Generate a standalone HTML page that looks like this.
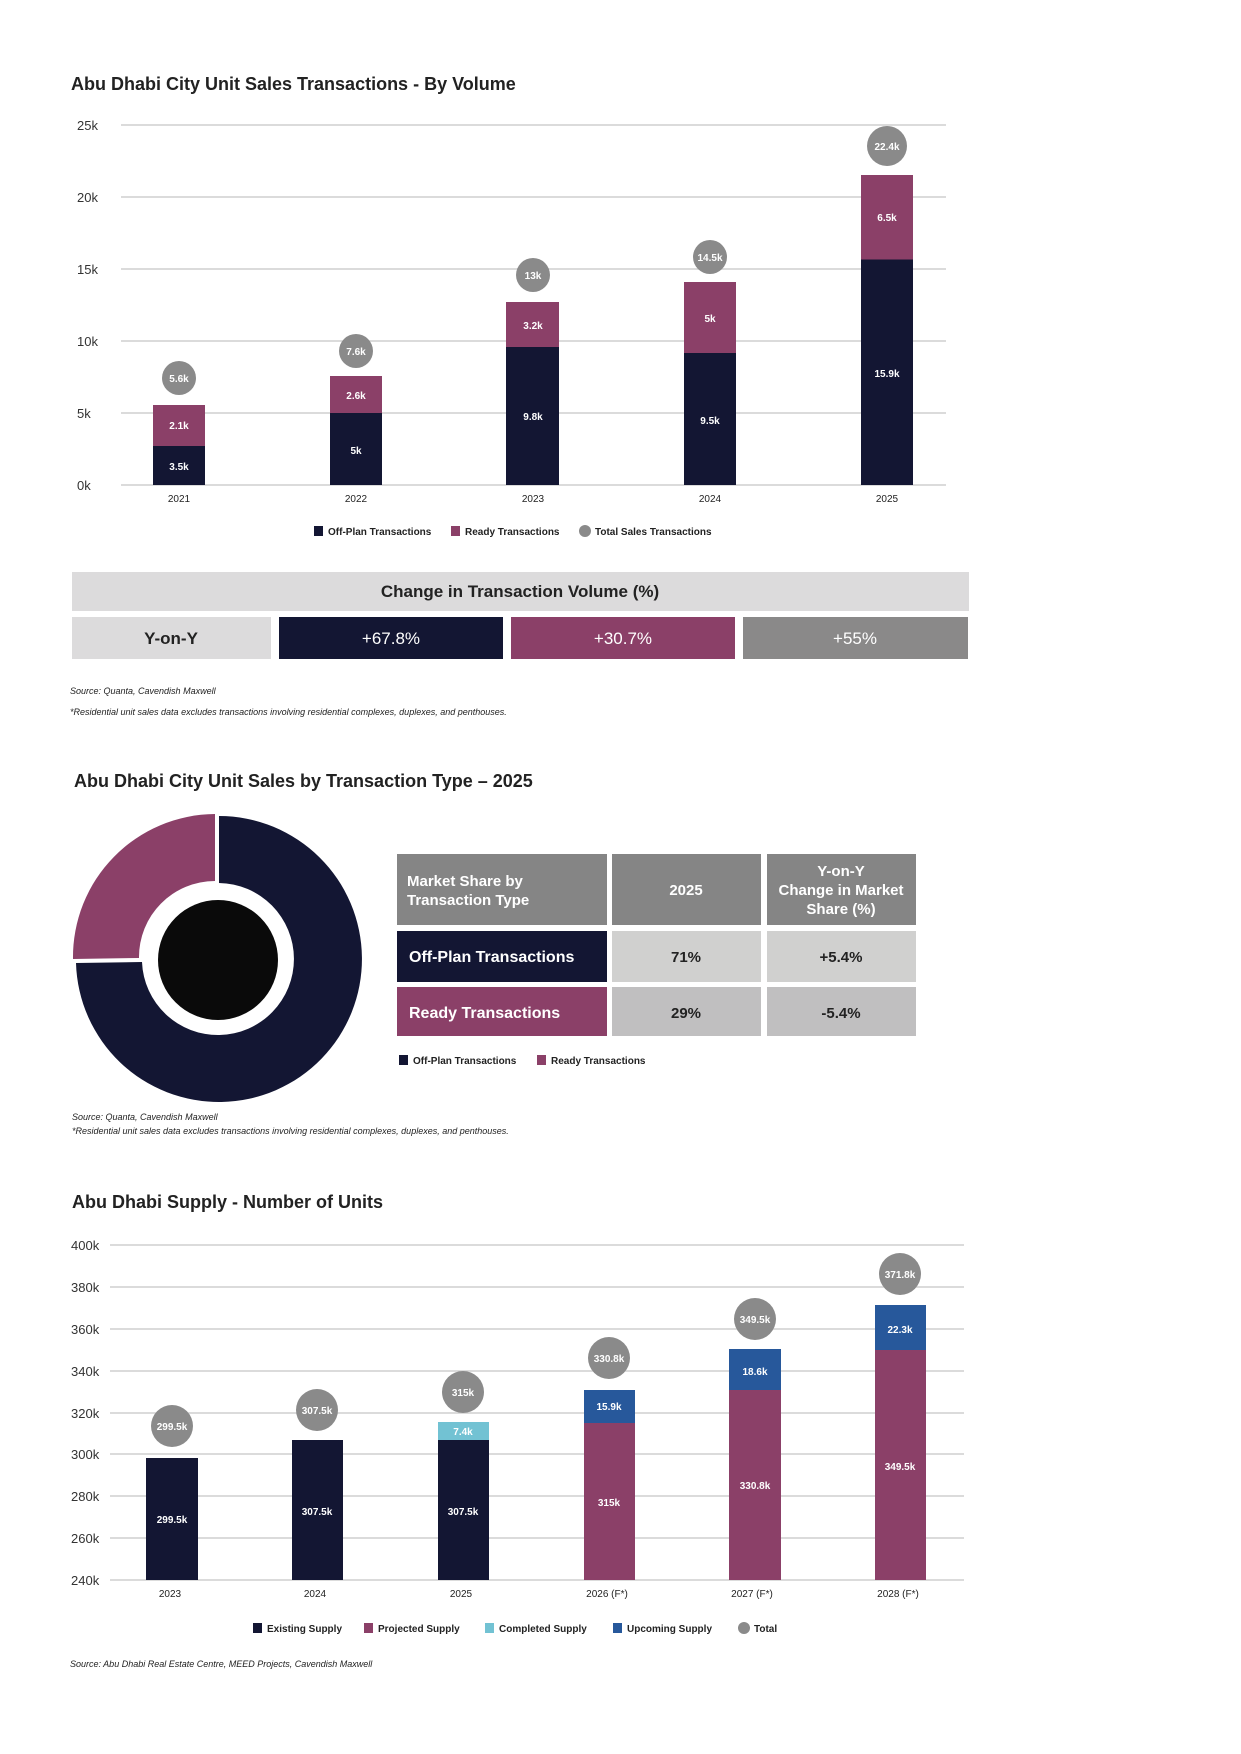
<!DOCTYPE html>
<html><head><meta charset="utf-8"><style>
body{margin:0;background:#fff;}
svg{display:block;font-family:"Liberation Sans",sans-serif;}
</style></head><body>
<svg width="1241" height="1754" viewBox="0 0 1241 1754">
<rect width="1241" height="1754" fill="#fff"/>
<!-- Chart 1 -->
<text x="71" y="90" font-size="18" font-weight="bold" fill="#222">Abu Dhabi City Unit Sales Transactions - By Volume</text>
<g stroke="#cfcfcf" stroke-width="1.5">
<line x1="121" y1="125" x2="946" y2="125"/><line x1="121" y1="197" x2="946" y2="197"/><line x1="121" y1="269" x2="946" y2="269"/><line x1="121" y1="341" x2="946" y2="341"/><line x1="121" y1="413" x2="946" y2="413"/><line x1="121" y1="485" x2="946" y2="485"/>
</g>
<g font-size="13" fill="#333">
<text x="77" y="130">25k</text><text x="77" y="202">20k</text><text x="77" y="274">15k</text><text x="77" y="346">10k</text><text x="77" y="418">5k</text><text x="77" y="490">0k</text>
</g>
<g>
<rect x="153" y="405" width="52" height="41" fill="#8b4068"/><rect x="153" y="446" width="52" height="39" fill="#131633"/>
<rect x="330" y="376" width="52" height="37" fill="#8b4068"/><rect x="330" y="413" width="52" height="72" fill="#131633"/>
<rect x="506" y="302" width="53" height="45" fill="#8b4068"/><rect x="506" y="347" width="53" height="138" fill="#131633"/>
<rect x="684" y="282" width="52" height="71" fill="#8b4068"/><rect x="684" y="353" width="52" height="132" fill="#131633"/>
<rect x="861" y="175" width="52" height="85" fill="#8b4068"/><rect x="861" y="259.5" width="52" height="225.5" fill="#131633"/>
</g>
<g fill="#8a8a8a"><circle cx="179" cy="378" r="17"/><circle cx="356" cy="351" r="17"/><circle cx="533" cy="275" r="17"/><circle cx="710" cy="257" r="17"/><circle cx="887" cy="146" r="20"/></g>
<g font-size="10" font-weight="bold" fill="#fff" text-anchor="middle">
<text x="179" y="382">5.6k</text><text x="356" y="355">7.6k</text><text x="533" y="279">13k</text><text x="710" y="261">14.5k</text><text x="887" y="150">22.4k</text>
<text x="179" y="470">3.5k</text><text x="179" y="429">2.1k</text>
<text x="356" y="454">5k</text><text x="356" y="399">2.6k</text>
<text x="533" y="420">9.8k</text><text x="533" y="329">3.2k</text>
<text x="710" y="424">9.5k</text><text x="710" y="322">5k</text>
<text x="887" y="377">15.9k</text><text x="887" y="221">6.5k</text>
</g>
<g font-size="10" fill="#222" text-anchor="middle">
<text x="179" y="502">2021</text><text x="356" y="502">2022</text><text x="533" y="502">2023</text><text x="710" y="502">2024</text><text x="887" y="502">2025</text>
</g>
<g font-size="10" font-weight="bold" fill="#222">
<rect x="314" y="526" width="9" height="10" fill="#131633"/><text x="328" y="535">Off-Plan Transactions</text>
<rect x="451" y="526" width="9" height="10" fill="#8b4068"/><text x="465" y="535">Ready Transactions</text>
<circle cx="585" cy="531" r="6" fill="#8a8a8a"/><text x="595" y="535">Total Sales Transactions</text>
</g>
<!-- change table -->
<rect x="72" y="572" width="897" height="39" fill="#dcdbdc"/>
<text x="520" y="597" font-size="17" font-weight="bold" fill="#222" text-anchor="middle">Change in Transaction Volume (%)</text>
<rect x="72" y="617" width="199" height="42" fill="#dcdbdc"/><text x="171" y="644" font-size="17" font-weight="bold" fill="#222" text-anchor="middle">Y-on-Y</text>
<rect x="279" y="617" width="224" height="42" fill="#131633"/><text x="391" y="644" font-size="17" fill="#fff" text-anchor="middle">+67.8%</text>
<rect x="511" y="617" width="224" height="42" fill="#8b4068"/><text x="623" y="644" font-size="17" fill="#fff" text-anchor="middle">+30.7%</text>
<rect x="743" y="617" width="225" height="42" fill="#8a8989"/><text x="855" y="644" font-size="17" fill="#fff" text-anchor="middle">+55%</text>
<text x="70" y="694" font-size="9" font-style="italic" fill="#222">Source: Quanta, Cavendish Maxwell</text>
<text x="70" y="715" font-size="9" font-style="italic" fill="#222">*Residential unit sales data excludes transactions involving residential complexes, duplexes, and penthouses.</text>
<!-- Chart 2 -->
<text x="74" y="787" font-size="18" font-weight="bold" fill="#222">Abu Dhabi City Unit Sales by Transaction Type – 2025</text>
<path d="M219 816 A143 143 0 1 1 76 963 L142 962 A76 76 0 1 0 219 883 Z" fill="#131633"/>
<path d="M215 814 A143 143 0 0 0 73 959 L139 958 A76 76 0 0 1 215 881 Z" fill="#8b4068"/>
<circle cx="218" cy="960" r="60" fill="#0a0a0a"/>
<rect x="397" y="854" width="210" height="71" fill="#858585"/>
<rect x="612" y="854" width="149" height="71" fill="#858585"/>
<rect x="767" y="854" width="149" height="71" fill="#858585"/>
<g font-weight="bold">
<text x="407" y="886" font-size="15" fill="#fff">Market Share by</text>
<text x="407" y="905" font-size="15" fill="#fff">Transaction Type</text>
<text x="686" y="895" font-size="15" fill="#fff" text-anchor="middle">2025</text>
<text x="841" y="876" font-size="15" fill="#fff" text-anchor="middle">Y-on-Y</text>
<text x="841" y="895" font-size="15" fill="#fff" text-anchor="middle">Change in Market</text>
<text x="841" y="914" font-size="15" fill="#fff" text-anchor="middle">Share (%)</text>
<rect x="397" y="931" width="210" height="51" fill="#131633"/><text x="409" y="962" font-size="16" fill="#fff">Off-Plan Transactions</text>
<rect x="612" y="931" width="149" height="51" fill="#d0d0cf"/><text x="686" y="962" font-size="15" fill="#222" text-anchor="middle">71%</text>
<rect x="767" y="931" width="149" height="51" fill="#d0d0cf"/><text x="841" y="962" font-size="15" fill="#222" text-anchor="middle">+5.4%</text>
<rect x="397" y="987" width="210" height="49" fill="#8b4068"/><text x="409" y="1018" font-size="16" fill="#fff">Ready Transactions</text>
<rect x="612" y="987" width="149" height="49" fill="#c0bfc0"/><text x="686" y="1018" font-size="15" fill="#222" text-anchor="middle">29%</text>
<rect x="767" y="987" width="149" height="49" fill="#c0bfc0"/><text x="841" y="1018" font-size="15" fill="#222" text-anchor="middle">-5.4%</text>
</g>
<g font-size="10" font-weight="bold" fill="#222">
<rect x="399" y="1055" width="9" height="10" fill="#131633"/><text x="413" y="1064">Off-Plan Transactions</text>
<rect x="537" y="1055" width="9" height="10" fill="#8b4068"/><text x="551" y="1064">Ready Transactions</text>
</g>
<text x="72" y="1120" font-size="9" font-style="italic" fill="#222">Source: Quanta, Cavendish Maxwell</text>
<text x="72" y="1134" font-size="9" font-style="italic" fill="#222">*Residential unit sales data excludes transactions involving residential complexes, duplexes, and penthouses.</text>
<!-- Chart 3 -->
<text x="72" y="1208" font-size="18" font-weight="bold" fill="#222">Abu Dhabi Supply - Number of Units</text>
<g stroke="#cfcfcf" stroke-width="1.5">
<line x1="110" y1="1245" x2="964" y2="1245"/><line x1="110" y1="1287" x2="964" y2="1287"/><line x1="110" y1="1329" x2="964" y2="1329"/><line x1="110" y1="1371" x2="964" y2="1371"/><line x1="110" y1="1413" x2="964" y2="1413"/><line x1="110" y1="1454" x2="964" y2="1454"/><line x1="110" y1="1496" x2="964" y2="1496"/><line x1="110" y1="1538" x2="964" y2="1538"/><line x1="110" y1="1580" x2="964" y2="1580"/>
</g>
<g font-size="13" fill="#333">
<text x="71" y="1250">400k</text><text x="71" y="1292">380k</text><text x="71" y="1334">360k</text><text x="71" y="1376">340k</text><text x="71" y="1418">320k</text><text x="71" y="1459">300k</text><text x="71" y="1501">280k</text><text x="71" y="1543">260k</text><text x="71" y="1585">240k</text>
</g>
<rect x="146" y="1458" width="52" height="122" fill="#131633"/>
<rect x="292" y="1440" width="51" height="140" fill="#131633"/>
<rect x="438" y="1440" width="51" height="140" fill="#131633"/><rect x="438" y="1422" width="51" height="18" fill="#72c2d3"/>
<rect x="584" y="1423" width="51" height="157" fill="#8b4068"/><rect x="584" y="1390" width="51" height="33" fill="#27589b"/>
<rect x="729" y="1390" width="52" height="190" fill="#8b4068"/><rect x="729" y="1349" width="52" height="41" fill="#27589b"/>
<rect x="875" y="1350" width="51" height="230" fill="#8b4068"/><rect x="875" y="1305" width="51" height="45" fill="#27589b"/>
<g fill="#8a8a8a"><circle cx="172" cy="1426" r="21"/><circle cx="317" cy="1410" r="21"/><circle cx="463" cy="1392" r="21"/><circle cx="609" cy="1358" r="21"/><circle cx="755" cy="1319" r="21"/><circle cx="900" cy="1274" r="21"/></g>
<g font-size="10" font-weight="bold" fill="#fff" text-anchor="middle">
<text x="172" y="1430">299.5k</text><text x="317" y="1414">307.5k</text><text x="463" y="1396">315k</text><text x="609" y="1362">330.8k</text><text x="755" y="1323">349.5k</text><text x="900" y="1278">371.8k</text>
<text x="172" y="1523">299.5k</text><text x="317" y="1515">307.5k</text><text x="463" y="1515">307.5k</text><text x="463" y="1435">7.4k</text>
<text x="609" y="1506">315k</text><text x="609" y="1410">15.9k</text>
<text x="755" y="1489">330.8k</text><text x="755" y="1375">18.6k</text>
<text x="900" y="1470">349.5k</text><text x="900" y="1333">22.3k</text>
</g>
<g font-size="10" fill="#222" text-anchor="middle">
<text x="170" y="1597">2023</text><text x="315" y="1597">2024</text><text x="461" y="1597">2025</text><text x="607" y="1597">2026 (F*)</text><text x="752" y="1597">2027 (F*)</text><text x="898" y="1597">2028 (F*)</text>
</g>
<g font-size="10" font-weight="bold" fill="#222">
<rect x="253" y="1623" width="9" height="10" fill="#131633"/><text x="267" y="1632">Existing Supply</text>
<rect x="364" y="1623" width="9" height="10" fill="#8b4068"/><text x="378" y="1632">Projected Supply</text>
<rect x="485" y="1623" width="9" height="10" fill="#72c2d3"/><text x="499" y="1632">Completed Supply</text>
<rect x="613" y="1623" width="9" height="10" fill="#27589b"/><text x="627" y="1632">Upcoming Supply</text>
<circle cx="744" cy="1628" r="6" fill="#8a8a8a"/><text x="754" y="1632">Total</text>
</g>
<text x="70" y="1667" font-size="9" font-style="italic" fill="#222">Source: Abu Dhabi Real Estate Centre, MEED Projects, Cavendish Maxwell</text>
</svg>
</body></html>
